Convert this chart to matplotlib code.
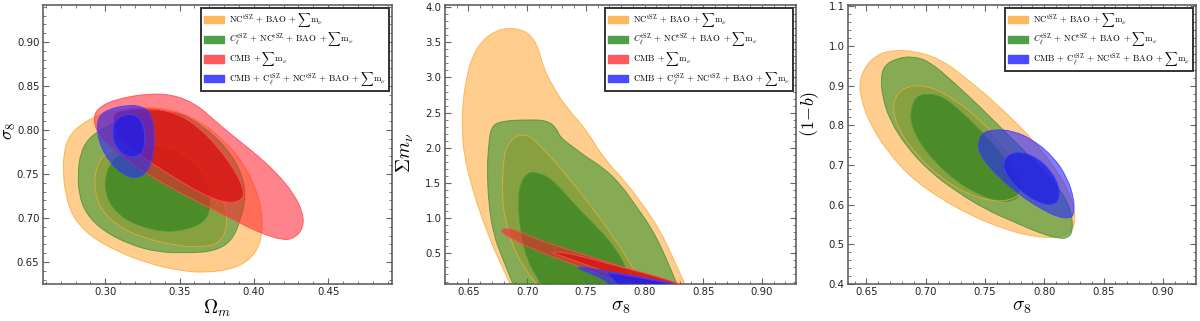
import numpy as np
import matplotlib
matplotlib.use("Agg")
import matplotlib.pyplot as plt
from matplotlib.path import Path
from matplotlib.patches import PathPatch, Patch
from matplotlib.ticker import MultipleLocator, FormatStrFormatter
from matplotlib.colors import to_rgba

# ---------------- data: contour outlines ----------------
# Panel 1: Omega_m vs sigma_8
p1_orange_2s_x = [0.2716, 0.2720, 0.2754, 0.2832, 0.2944, 0.3078, 0.3258, 0.3459, 0.3638, 0.3795, 0.3929, 0.4019,
                  0.4059, 0.4052, 0.3996, 0.3884, 0.3683, 0.3481, 0.3280, 0.3078, 0.2899, 0.2776, 0.2731]
p1_orange_2s_y = [0.7511, 0.7738, 0.7928, 0.8061, 0.8163, 0.8231, 0.8261, 0.8231, 0.8098, 0.7890, 0.7625, 0.7322,
                  0.7019, 0.6754, 0.6564, 0.6432, 0.6375, 0.6405, 0.6489, 0.6621, 0.6791, 0.7019, 0.7284]
p1_orange_1s_x = [0.2922, 0.2944, 0.3034, 0.3258, 0.3437, 0.3593, 0.3728, 0.3806, 0.3824, 0.3784, 0.3683, 0.3504,
                  0.3280, 0.3101, 0.2966]
p1_orange_1s_y = [0.7360, 0.7625, 0.7788, 0.7845, 0.7814, 0.7663, 0.7417, 0.7170, 0.6943, 0.6735, 0.6670, 0.6678,
                  0.6761, 0.6886, 0.7095]
p1_green_2s_x = [0.2816, 0.2832, 0.2888, 0.2989, 0.3123, 0.3302, 0.3481, 0.3661, 0.3817, 0.3918, 0.3947, 0.3911,
                 0.3851, 0.3728, 0.3549, 0.3347, 0.3168, 0.2989, 0.2866, 0.2821]
p1_green_2s_y = [0.7511, 0.7738, 0.7909, 0.8023, 0.8136, 0.8212, 0.8212, 0.8042, 0.7795, 0.7511, 0.7246, 0.6981,
                 0.6735, 0.6620, 0.6602, 0.6613, 0.6697, 0.6848, 0.7056, 0.7284]
p1_green_1s_x = [0.2996, 0.3034, 0.3123, 0.3258, 0.3459, 0.3616, 0.3694, 0.3710, 0.3672, 0.3549, 0.3392, 0.3235,
                 0.3101, 0.3011]
p1_green_1s_y = [0.7435, 0.7625, 0.7758, 0.7845, 0.7784, 0.7587, 0.7360, 0.7132, 0.6962, 0.6867, 0.6841, 0.6905,
                 0.7019, 0.7208]
p1_red_2s_x = [0.2917, 0.2966, 0.3078, 0.3280, 0.3459, 0.3616, 0.3728, 0.3862, 0.4019, 0.4153, 0.4265, 0.4332,
               0.4332, 0.4276, 0.4198, 0.4041, 0.3862, 0.3683, 0.3504, 0.3325, 0.3168, 0.3034, 0.2944]
p1_red_2s_y = [0.8155, 0.8269, 0.8352, 0.8413, 0.8401, 0.8288, 0.8117, 0.7928, 0.7719, 0.7511, 0.7284, 0.7056,
               0.6886, 0.6773, 0.6746, 0.6829, 0.6981, 0.7132, 0.7284, 0.7455, 0.7625, 0.7814, 0.7966]
p1_red_1s_x = [0.3045, 0.3123, 0.3302, 0.3481, 0.3638, 0.3772, 0.3884, 0.3940, 0.3907, 0.3817, 0.3683, 0.3504,
               0.3325, 0.3168, 0.3067]
p1_red_1s_y = [0.8174, 0.8231, 0.8250, 0.8193, 0.8023, 0.7777, 0.7511, 0.7284, 0.7189, 0.7170, 0.7246, 0.7417,
               0.7606, 0.7795, 0.7966]
p1_blue_2s_x = [0.2944, 0.2949, 0.3011, 0.3157, 0.3258, 0.3313, 0.3331, 0.3325, 0.3280, 0.3202, 0.3123, 0.3045, 0.2978]
p1_blue_2s_y = [0.7966, 0.8136, 0.8231, 0.8288, 0.8261, 0.8174, 0.7966, 0.7700, 0.7511, 0.7447, 0.7492, 0.7606, 0.7777]
p1_blue_1s_x = [0.3045, 0.3067, 0.3146, 0.3213, 0.3258, 0.3269, 0.3253, 0.3190, 0.3123, 0.3067]
p1_blue_1s_y = [0.7966, 0.8125, 0.8185, 0.8166, 0.8060, 0.7890, 0.7738, 0.7681, 0.7719, 0.7814]

# Panel 2: sigma_8 vs sum m_nu
p2_orange_2s_x = [0.687, 0.6855, 0.679, 0.671, 0.660, 0.652, 0.6463, 0.6446, 0.6452, 0.6486, 0.6528, 0.6613, 0.6727,
                  0.684, 0.6953, 0.7038, 0.7095, 0.7138, 0.7223, 0.7336, 0.751, 0.7645, 0.785, 0.802, 0.813, 0.824,
                  0.832, 0.836]
p2_orange_2s_y = [0.0, 0.07, 0.30, 0.59, 1.07, 1.50, 1.90, 2.25, 2.67, 3.00, 3.28, 3.52, 3.66,
                  3.705, 3.68, 3.59, 3.42, 3.14, 2.86, 2.57, 2.245, 1.863, 1.495, 1.109, 0.83, 0.45,
                  0.15, 0.0]
p2_orange_1s_x = [0.710, 0.708, 0.697, 0.688, 0.681, 0.6787, 0.6796, 0.682, 0.688, 0.6953, 0.7024, 0.710, 0.7279,
                  0.7506, 0.7676, 0.7846, 0.796, 0.799]
p2_orange_1s_y = [0.0, 0.07, 0.30, 0.59, 1.0, 1.30, 1.78, 2.0, 2.14, 2.19, 2.17, 2.05, 1.727,
                  1.255, 0.877, 0.453, 0.123, 0.0]
p2_green_2s_x = [0.689, 0.688, 0.6796, 0.671, 0.667, 0.666, 0.667, 0.669, 0.677, 0.700, 0.717, 0.725, 0.728, 0.740,
                 0.751, 0.7645, 0.779, 0.7935, 0.807, 0.818, 0.8275, 0.829]
p2_green_2s_y = [0.0, 0.066, 0.405, 0.78, 1.25, 1.70, 2.0, 2.29, 2.38, 2.40, 2.39, 2.28, 2.15, 2.0,
                 1.863, 1.72, 1.495, 1.156, 0.83, 0.45, 0.066, 0.0]
p2_green_1s_x = [0.713, 0.712, 0.700, 0.694, 0.6923, 0.695, 0.700, 0.7042, 0.712, 0.722, 0.7423, 0.7619, 0.7763,
                 0.785, 0.7875, 0.788]
p2_green_1s_y = [0.0, 0.066, 0.40, 0.83, 1.297, 1.52, 1.63, 1.656, 1.63, 1.54, 1.156, 0.83, 0.547,
                 0.264, 0.066, 0.0]
p2_red_2s_x = [0.6775, 0.682, 0.690, 0.705, 0.734, 0.762, 0.790, 0.819, 0.835, 0.845, 0.790, 0.775, 0.750, 0.720,
               0.700, 0.688, 0.680]
p2_red_2s_y = [0.835, 0.857, 0.835, 0.72, 0.56, 0.41, 0.26, 0.12, 0.04, 0.0, 0.0, 0.10, 0.28, 0.46,
               0.60, 0.70, 0.78]
p2_red_1s_x = [0.721, 0.726, 0.745, 0.770, 0.800, 0.825, 0.838, 0.800, 0.785, 0.765, 0.745, 0.728]
p2_red_1s_y = [0.505, 0.525, 0.465, 0.35, 0.22, 0.10, 0.0, 0.0, 0.12, 0.25, 0.37, 0.47]
p2_blue_2s_x = [0.7435, 0.7460, 0.770, 0.800, 0.8275, 0.831, 0.772, 0.768, 0.760, 0.750, 0.745]
p2_blue_2s_y = [0.300, 0.312, 0.24, 0.15, 0.066, 0.0, 0.0, 0.10, 0.17, 0.24, 0.28]
p2_blue_1s_x = [0.767, 0.770, 0.790, 0.810, 0.822, 0.826, 0.780, 0.775, 0.770]
p2_blue_1s_y = [0.215, 0.224, 0.17, 0.11, 0.066, 0.0, 0.0, 0.10, 0.18]

# Panel 3: sigma_8 vs (1-b)
p3_orange_2s_x = [0.6438, 0.6486, 0.6584, 0.6697, 0.6866, 0.7119, 0.7345, 0.7626, 0.7908, 0.8105, 0.8231, 0.8268,
                  0.8223, 0.8105, 0.7908, 0.7682, 0.7401, 0.7119, 0.6866, 0.6669, 0.6528, 0.6458]
p3_orange_2s_y = [0.9054, 0.9473, 0.9767, 0.9876, 0.9893, 0.9683, 0.9180, 0.8466, 0.7627, 0.6872, 0.6201, 0.5614,
                  0.5278, 0.5160, 0.5194, 0.5362, 0.5698, 0.6159, 0.6704, 0.7376, 0.8047, 0.8634]
p3_orange_1s_x = [0.6720, 0.6753, 0.6866, 0.7035, 0.7232, 0.7429, 0.7626, 0.7767, 0.7829, 0.7809, 0.7725, 0.7570,
                  0.7373, 0.7147, 0.6922, 0.6781]
p3_orange_1s_y = [0.8382, 0.8802, 0.9003, 0.8986, 0.8676, 0.8215, 0.7627, 0.7082, 0.6620, 0.6302, 0.6117, 0.6075,
                  0.6243, 0.6620, 0.7250, 0.7837]
p3_green_2s_x = [0.6621, 0.6655, 0.6753, 0.6894, 0.7035, 0.7232, 0.7457, 0.7710, 0.7964, 0.8161, 0.8231, 0.8240,
                 0.8211, 0.8133, 0.7964, 0.7739, 0.7513, 0.7260, 0.7035, 0.6838, 0.6697, 0.6635]
p3_green_2s_y = [0.9221, 0.9515, 0.9683, 0.9741, 0.9599, 0.9095, 0.8466, 0.7711, 0.6956, 0.6285, 0.5780, 0.5362,
                 0.5177, 0.5135, 0.5278, 0.5572, 0.5865, 0.6327, 0.6830, 0.7460, 0.8131, 0.8718]
p3_green_1s_x = [0.6872, 0.6908, 0.7007, 0.7147, 0.7316, 0.7513, 0.7682, 0.7789, 0.7795, 0.7739, 0.7626, 0.7457,
                 0.7260, 0.7063, 0.6936, 0.6880]
p3_green_1s_y = [0.8298, 0.8701, 0.8802, 0.8718, 0.8298, 0.7711, 0.7124, 0.6578, 0.6243, 0.6092, 0.6075, 0.6243,
                 0.6578, 0.7124, 0.7627, 0.8047]
p3_blue_2s_x = [0.7443, 0.7471, 0.7570, 0.7739, 0.7908, 0.8076, 0.8189, 0.8251, 0.8251, 0.8223, 0.8119, 0.7964,
                0.7795, 0.7626, 0.7499, 0.7449]
p3_blue_2s_y = [0.7543, 0.7795, 0.7896, 0.7862, 0.7627, 0.7208, 0.6704, 0.6159, 0.5780, 0.5656, 0.5681, 0.5907,
                0.6243, 0.6662, 0.7082, 0.7334]
p3_blue_1s_x = [0.7654, 0.7696, 0.7809, 0.7950, 0.8062, 0.8127, 0.8127, 0.8076, 0.7978, 0.7837, 0.7725, 0.7668]
p3_blue_1s_y = [0.7040, 0.7275, 0.7334, 0.7166, 0.6830, 0.6453, 0.6117, 0.5991, 0.6016, 0.6243, 0.6578, 0.6830]

labels = [
    r"$\mathrm{NC}^{\mathrm{tSZ}}\,+\,\mathrm{BAO}\;+\sum\mathrm{m}_\nu$",
    r"$C_\ell^{\mathrm{tSZ}}\,+\,\mathrm{NC}^{\mathrm{tSZ}}\,+\,\mathrm{BAO}\;+\sum\mathrm{m}_\nu$",
    r"$\mathrm{CMB}\;+\sum\mathrm{m}_\nu$",
    r"$\mathrm{CMB}\,+\,\mathrm{C}_\ell^{\mathrm{tSZ}}\,+\,\mathrm{NC}^{\mathrm{tSZ}}\,+\,\mathrm{BAO}\;+\sum\mathrm{m}_\nu$",
]

# ---------------- style ----------------
plt.rcParams['mathtext.fontset'] = 'cm'
plt.rcParams['font.family'] = ['DejaVu Sans']

C = {
    'orange': dict(o=((1.0, 0.647, 0.196), 0.55), i=((1.0, 0.647, 0.196), 0.55), e=(0.98, 0.69, 0.27)),
    'green': dict(o=((0.216, 0.576, 0.184), 0.60), i=((0.196, 0.51, 0.118), 0.70), e=(0.30, 0.58, 0.22)),
    'red': dict(o=((1.0, 0.118, 0.176), 0.55), i=((0.863, 0.078, 0.078), 0.80), e=(1.0, 0.30, 0.33)),
    'blue': dict(o=((0.157, 0.157, 1.0), 0.60), i=((0.118, 0.118, 0.90), 0.75), e=(0.25, 0.25, 1.0)),
}
legend_colors = {'orange': '#FFB75E', 'green': '#4E9E4A', 'red': '#FF5A60', 'blue': '#4A4AFF'}


def smooth_path(xs, ys):
    pts = np.column_stack([xs, ys])
    mids = (pts + np.roll(pts, -1, axis=0)) / 2.0
    verts = [mids[-1]]
    codes = [Path.MOVETO]
    for i in range(len(pts)):
        verts += [pts[i], mids[i]]
        codes += [Path.CURVE3, Path.CURVE3]
    verts.append(mids[-1])
    codes.append(Path.CLOSEPOLY)
    return Path(verts, codes)


def region(ax, xs, ys, name, level, z):
    face, a = C[name][level]
    ax.add_patch(PathPatch(smooth_path(xs, ys), facecolor=to_rgba(face, a),
                           edgecolor=to_rgba(C[name]['e'], 0.85), lw=0.7, zorder=z))


def outline(ax, xs, ys, name, z, a=0.7):
    ax.add_patch(PathPatch(smooth_path(xs, ys), facecolor='none',
                           edgecolor=to_rgba(C[name]['e'], a), lw=0.7, zorder=z))


def style(ax, xlim, ylim, xmaj, xmin, ymaj, ymin, xfmt, yfmt):
    ax.set_xlim(*xlim)
    ax.set_ylim(*ylim)
    ax.xaxis.set_major_locator(MultipleLocator(xmaj))
    ax.xaxis.set_minor_locator(MultipleLocator(xmin))
    ax.yaxis.set_major_locator(MultipleLocator(ymaj))
    ax.yaxis.set_minor_locator(MultipleLocator(ymin))
    ax.xaxis.set_major_formatter(FormatStrFormatter(xfmt))
    ax.yaxis.set_major_formatter(FormatStrFormatter(yfmt))
    ax.tick_params(which='both', direction='in', top=True, right=True, colors='#666666',
                   labelcolor='#222222', labelsize=7.3, pad=2.5)
    ax.tick_params(which='major', length=4, width=0.8)
    ax.tick_params(which='minor', length=2, width=0.6)
    for s in ax.spines.values():
        s.set_color('#555555')
        s.set_linewidth(1.1)


def add_legend(ax, names):
    handles = [Patch(facecolor=legend_colors[n], edgecolor=legend_colors[n]) for n in names]
    idx = {'orange': 0, 'green': 1, 'red': 2, 'blue': 3}
    leg = ax.legend(handles, [labels[idx[n]] for n in names], loc='upper right', fontsize=6.4,
                    frameon=True, fancybox=False, edgecolor='#333333', framealpha=1.0,
                    handlelength=2.2, handleheight=0.9, borderaxespad=0.3, labelspacing=0.18,
                    handletextpad=0.6, borderpad=0.35)
    leg.get_frame().set_linewidth(1.4)
    leg.set_zorder(20)


fig = plt.figure(figsize=(12.0, 3.21), dpi=100)
ax1 = fig.add_axes([0.0358, 0.1153, 0.2909, 0.8691])
ax2 = fig.add_axes([0.3708, 0.1153, 0.2925, 0.8691])
ax3 = fig.add_axes([0.7067, 0.1153, 0.2900, 0.8691])

# panel 1
region(ax1, p1_orange_2s_x, p1_orange_2s_y, 'orange', 'o', 1)
region(ax1, p1_orange_1s_x, p1_orange_1s_y, 'orange', 'i', 2)
region(ax1, p1_green_2s_x, p1_green_2s_y, 'green', 'o', 3)
region(ax1, p1_green_1s_x, p1_green_1s_y, 'green', 'i', 4)
outline(ax1, p1_orange_1s_x, p1_orange_1s_y, 'orange', 4.5)
region(ax1, p1_red_2s_x, p1_red_2s_y, 'red', 'o', 5)
region(ax1, p1_red_1s_x, p1_red_1s_y, 'red', 'i', 6)
region(ax1, p1_blue_2s_x, p1_blue_2s_y, 'blue', 'o', 7)
region(ax1, p1_blue_1s_x, p1_blue_1s_y, 'blue', 'i', 8)
style(ax1, (0.258, 0.493), (0.625, 0.942), 0.05, 0.01, 0.05, 0.01, '%.2f', '%.2f')
ax1.set_xlabel(r'$\Omega_m$', fontsize=14, labelpad=0)
ax1.set_ylabel(r'$\sigma_8$', fontsize=13)
ax1.yaxis.set_label_coords(-0.071, 0.55)
add_legend(ax1, ['orange', 'green', 'red', 'blue'])

# panel 2
region(ax2, p2_orange_2s_x, p2_orange_2s_y, 'orange', 'o', 1)
region(ax2, p2_orange_1s_x, p2_orange_1s_y, 'orange', 'i', 2)
region(ax2, p2_green_2s_x, p2_green_2s_y, 'green', 'o', 3)
region(ax2, p2_green_1s_x, p2_green_1s_y, 'green', 'i', 4)
outline(ax2, p2_orange_1s_x, p2_orange_1s_y, 'orange', 4.5)
region(ax2, p2_red_2s_x, p2_red_2s_y, 'red', 'o', 5)
region(ax2, p2_red_1s_x, p2_red_1s_y, 'red', 'i', 6)
region(ax2, p2_blue_2s_x, p2_blue_2s_y, 'blue', 'o', 7)
region(ax2, p2_blue_1s_x, p2_blue_1s_y, 'blue', 'i', 8)
style(ax2, (0.630, 0.929), (0.065, 4.03), 0.05, 0.01, 0.5, 0.1, '%.2f', '%.1f')
ax2.set_xlabel(r'$\sigma_8$', fontsize=14, labelpad=0)
ax2.set_ylabel(r'$\Sigma m_\nu$', fontsize=14)
ax2.yaxis.set_label_coords(-0.082, 0.47)
add_legend(ax2, ['orange', 'green', 'red', 'blue'])

# panel 3
region(ax3, p3_orange_2s_x, p3_orange_2s_y, 'orange', 'o', 1)
region(ax3, p3_orange_1s_x, p3_orange_1s_y, 'orange', 'i', 2)
region(ax3, p3_green_2s_x, p3_green_2s_y, 'green', 'o', 3)
region(ax3, p3_green_1s_x, p3_green_1s_y, 'green', 'i', 4)
outline(ax3, p3_orange_1s_x, p3_orange_1s_y, 'orange', 4.5)
region(ax3, p3_blue_2s_x, p3_blue_2s_y, 'blue', 'o', 7)
region(ax3, p3_blue_1s_x, p3_blue_1s_y, 'blue', 'i', 8)
style(ax3, (0.6345, 0.928), (0.40, 1.103), 0.05, 0.01, 0.1, 0.02, '%.2f', '%.1f')
ax3.set_xlabel(r'$\sigma_8$', fontsize=14, labelpad=0)
ax3.set_ylabel(r'$(1\!-\!b)$', fontsize=13)
ax3.yaxis.set_label_coords(-0.077, 0.61)
add_legend(ax3, ['orange', 'green', 'blue'])

fig.savefig('out.png', dpi=100)
